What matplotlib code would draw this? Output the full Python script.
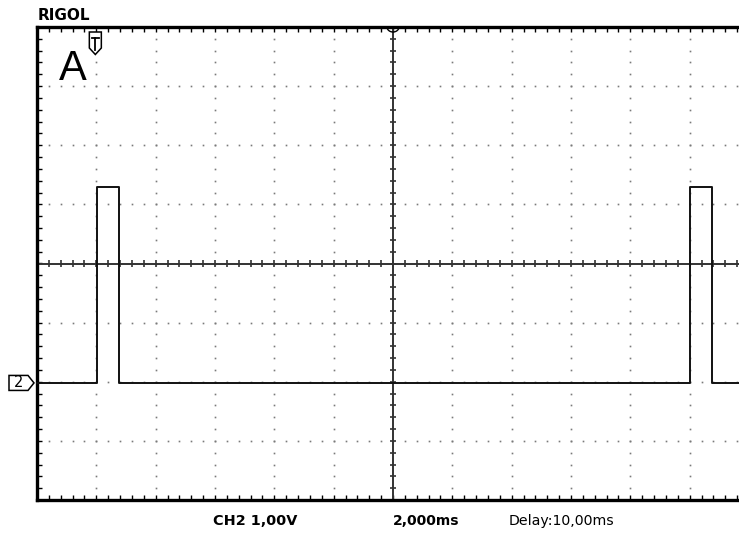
import numpy as np
import matplotlib
matplotlib.use("Agg")
import matplotlib.pyplot as plt
from matplotlib.patches import Polygon
from matplotlib.ticker import MultipleLocator

W, H = 739, 533

# ---------------- data ----------------
edge_times_ms = [0.01, 0.78, 20.02, 20.74]   # rising, falling, rising, falling
low_level_v = 0.0
high_level_v = 3.31
t_start_ms, t_end_ms = -2.0, 22.0
time_per_div_ms = 2.0
volt_per_div = 1.0
screen_centre_v = 2.02
n_hdiv, n_vdiv = 12, 8
trigger_time_ms = 0.0
delay_ms = 10.0

title_text = "RIGOL"
mark_text = "A"
ch_text = "CH2 1,00V"
tb_text = "2,000ms"
delay_text = "Delay:10,00ms"
channel_label = "2"

# build the step trace
trace_t = [t_start_ms]
trace_v = [low_level_v]
level = low_level_v
for e in edge_times_ms:
    new = high_level_v if level == low_level_v else low_level_v
    trace_t += [e, e]
    trace_v += [level, new]
    level = new
trace_t.append(t_end_ms)
trace_v.append(level)

# ---------------- figure ----------------
fig = plt.figure(figsize=(W / 100, H / 100), dpi=100)
fig.patch.set_facecolor("white")
ax = fig.add_axes([37 / W, 33 / H, 712 / W, 473 / H])
x0 = delay_ms - n_hdiv / 2 * time_per_div_ms
x1 = delay_ms + n_hdiv / 2 * time_per_div_ms
y0 = screen_centre_v - n_vdiv / 2 * volt_per_div
y1 = screen_centre_v + n_vdiv / 2 * volt_per_div
ax.set_xlim(x0, x1)
ax.set_ylim(y0, y1)

for s in ["left", "top", "bottom"]:
    ax.spines[s].set_linewidth(2.4)
    ax.spines[s].set_color("black")
ax.spines["right"].set_visible(False)

ax.xaxis.set_major_locator(MultipleLocator(time_per_div_ms / 5))
ax.yaxis.set_major_formatter(plt.NullFormatter())
ax.xaxis.set_major_formatter(plt.NullFormatter())
ax.tick_params(axis="both", which="both", direction="in", length=3.5,
               width=1.0, color="black", top=True, bottom=True, left=True,
               right=False, labelbottom=False, labelleft=False)
ax.set_yticks(screen_centre_v + np.arange(-4, 4.01, 0.2) * volt_per_div)
ax.set_xlim(x0, x1)
ax.set_ylim(y0, y1)

# dotted grid
dot_color = "#7a7a7a"
gx, gy = [], []
for k in range(1, n_hdiv):
    xv = x0 + k * time_per_div_ms
    if abs(xv - delay_ms) < 1e-9:
        continue
    ys = y0 + np.arange(1, n_vdiv * 5) * volt_per_div / 5
    gx += [xv] * len(ys)
    gy += list(ys)
for k in range(1, n_vdiv):
    yv = y0 + k * volt_per_div
    if abs(yv - screen_centre_v) < 1e-9:
        continue
    xs = x0 + np.arange(1, n_hdiv * 5) * time_per_div_ms / 5
    gx += list(xs)
    gy += [yv] * len(xs)
ax.plot(gx, gy, ls="none", marker="s", ms=1.2, mec="none", mfc=dot_color, zorder=1)

# centre cross with ticks
cc = "#333333"
ax.axvline(delay_ms, color=cc, lw=1.4, zorder=2)
ax.axhline(screen_centre_v, color=cc, lw=1.4, zorder=2)
yt = y0 + np.arange(1, n_vdiv * 5) * volt_per_div / 5
ax.hlines(yt, delay_ms - 0.1, delay_ms + 0.1, color=cc, lw=1.2, zorder=2)
xt = x0 + np.arange(1, n_hdiv * 5) * time_per_div_ms / 5
ax.vlines(xt, screen_centre_v - 0.055, screen_centre_v + 0.055, color=cc, lw=1.2, zorder=2)

# trace
ax.plot(trace_t, trace_v, color="#111111", lw=1.4, zorder=5, clip_on=False)

# ---------------- markers (display pixel coords) ----------------
def disp(xd, yd):
    return ax.transData.transform((xd, yd))

def px(x, y_top):
    return (x, H - y_top)

# trigger marker at top
tx = disp(trigger_time_ms, y1)[0] - 1
tri = [px(tx - 6, 32), px(tx + 6, 32), px(tx + 6, 48),
       px(tx, 54.5), px(tx - 6, 48)]
fig.patches.append(Polygon(tri, closed=True, transform=None, fc="white",
                           ec="black", lw=1.1, zorder=10))
fig.lines.append(plt.Line2D([tx - 3.5, tx + 3.5], [H - 38, H - 38],
                            transform=None, color="black", lw=1.3, zorder=12))
fig.lines.append(plt.Line2D([tx, tx], [H - 38, H - 50],
                            transform=None, color="black", lw=1.3, zorder=12))

# delay marker at top centre
cxp = disp(delay_ms, y1)[0]
th = np.linspace(np.pi, 2 * np.pi, 20)
arc = np.column_stack([cxp + 6 * np.cos(th), (H - 27) + 5 * np.sin(th)])
fig.lines.append(plt.Line2D(arc[:, 0], arc[:, 1], transform=None,
                            color="black", lw=1.0, zorder=12))

# channel ground marker at left
gyp = disp(x0, low_level_v)[1]
gy_top = H - gyp
chm = [px(9, gy_top - 7.5), px(28, gy_top - 7.5), px(34, gy_top),
       px(28, gy_top + 7.5), px(9, gy_top + 7.5)]
fig.patches.append(Polygon(chm, closed=True, transform=None, fc="white",
                           ec="black", lw=1.1, zorder=10))
fig.text(19 / W, gyp / H, channel_label, ha="center", va="center",
         fontsize=10.5, family="DejaVu Sans", color="black", zorder=11)

# ---------------- texts ----------------
fig.text(38 / W, 1 - 15 / H, title_text, ha="left", va="center",
         fontsize=11, fontweight="bold", family="DejaVu Sans")
fig.text(59 / W, 1 - 80 / H, mark_text, ha="left", va="baseline",
         fontsize=30, family="Liberation Sans")
fig.text(213 / W, 1 - 521 / H, ch_text, ha="left", va="center",
         fontsize=10.4, fontweight="bold", family="DejaVu Sans")
fig.text(393 / W, 1 - 521 / H, tb_text, ha="left", va="center",
         fontsize=10, fontweight="bold", family="DejaVu Sans")
fig.text(509 / W, 1 - 521 / H, delay_text, ha="left", va="center",
         fontsize=10.2, family="DejaVu Sans")

fig.savefig("out.png", dpi=100)
